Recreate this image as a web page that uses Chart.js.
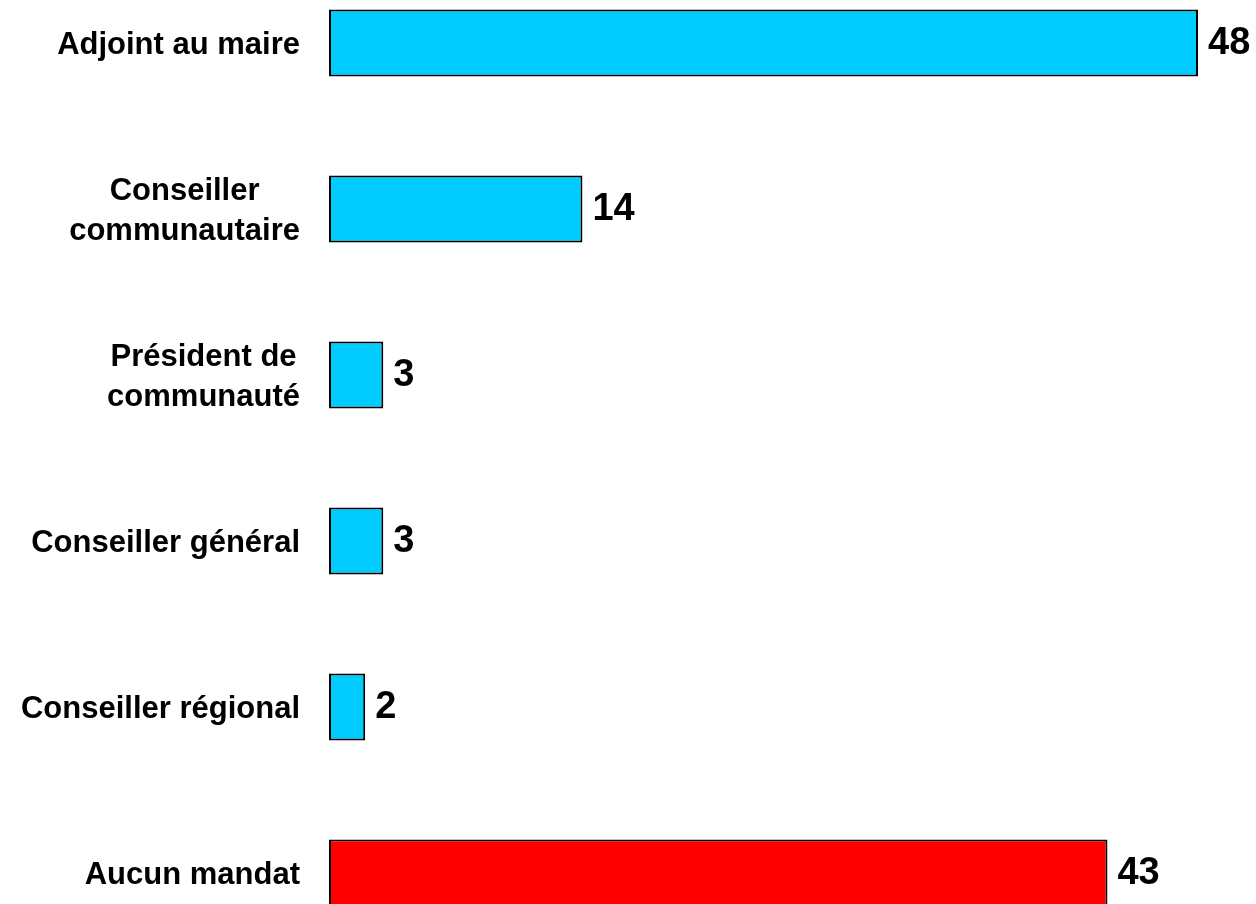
<!DOCTYPE html>
<html>
<head>
<meta charset="utf-8">
<script src="https://cdn.jsdelivr.net/npm/chart.js@4"></script>
<style>
  html, body { margin: 0; padding: 0; background: #fff; overflow: hidden; }
  #wrap { position: absolute; left: 0; top: -40px; width: 1256px; height: 996px; }
</style>
</head>
<body>
<div id="wrap"><canvas id="barChart" width="1256" height="996"></canvas></div>
<script>
const categories = [
  ['Adjoint au maire'],
  ['Conseiller', 'communautaire'],
  ['Président de', 'communauté'],
  ['Conseiller général'],
  ['Conseiller régional'],
  ['Aucun mandat']
];
const values = [48, 14, 3, 3, 2, 43];
const barColors = ['#00CCFF', '#00CCFF', '#00CCFF', '#00CCFF', '#00CCFF', '#FF0000'];

const FONT = '"Liberation Sans", Arial, sans-serif';

// draws the category labels (centred lines, block right-aligned) and the value labels
const labelPlugin = {
  id: 'labels',
  afterDatasetsDraw(chart) {
    const ctx = chart.ctx;
    const y = chart.scales.y;
    const meta = chart.getDatasetMeta(0);
    ctx.save();
    ctx.fillStyle = '#000';
    ctx.textBaseline = 'middle';

    ctx.font = 'bold 31px ' + FONT;
    ctx.textAlign = 'center';
    const lineH = 40;
    categories.forEach((lines, i) => {
      const cy = y.getPixelForValue(i) + 2;
      const w = Math.max(...lines.map(l => ctx.measureText(l).width));
      const cx = 300 - w / 2;
      lines.forEach((l, j) => {
        ctx.fillText(l, cx, cy + (j - (lines.length - 1) / 2) * lineH);
      });
    });

    ctx.font = 'bold 38px ' + FONT;
    ctx.textAlign = 'left';
    meta.data.forEach((bar, i) => {
      ctx.fillText(String(values[i]), bar.x + 10, bar.y + 1);
    });
    ctx.restore();
  }
};

new Chart(document.getElementById('barChart').getContext('2d'), {
  type: 'bar',
  data: {
    labels: categories,
    datasets: [
      {
        data: values,
        backgroundColor: barColors,
        borderColor: '#000',
        borderWidth: 2,
        borderSkipped: false,
        barPercentage: 0.404,
        categoryPercentage: 1
      }
    ]
  },
  options: {
    indexAxis: 'y',
    responsive: false,
    animation: false,
    layout: { padding: { left: 329, right: 58, top: 0, bottom: 0 } },
    plugins: {
      legend: { display: false },
      tooltip: { enabled: false }
    },
    scales: {
      x: { display: false, min: 0, max: 48 },
      y: { display: false }
    }
  },
  plugins: [labelPlugin]
});
</script>
</body>
</html>
